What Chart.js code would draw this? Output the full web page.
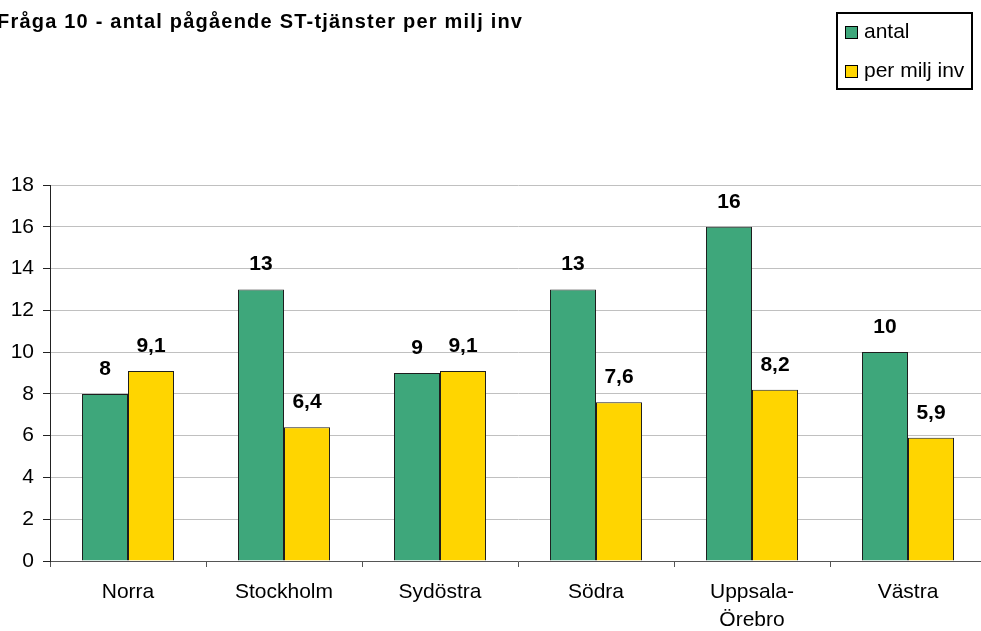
<!DOCTYPE html>
<html lang="sv">
<head>
<meta charset="UTF-8">
<title>Fråga 10 - antal pågående ST-tjänster per milj inv</title>
<script src="https://cdn.jsdelivr.net/npm/chart.js"></script>
<style>
    html, body {
        margin: 0;
        padding: 0;
        background: #ffffff;
        overflow: hidden;
    }
    #wrap {
        width: 990px;
        height: 631px;
    }
</style>
</head>
<body>

<div id="wrap"><canvas id="stChart" width="990" height="631"></canvas></div>

<script>
    const titel = 'Fråga 10 - antal pågående ST-tjänster per milj inv';
    const regioner = ['Norra', 'Stockholm', 'Sydöstra', 'Södra', ['Uppsala-', 'Örebro'], 'Västra'];
    const antal = [8, 13, 9, 13, 16, 10];
    const perMiljInv = [9.1, 6.4, 9.1, 7.6, 8.2, 5.9];
    const serieNamn = ['antal', 'per milj inv'];
    const serieFarg = ['#3ea77b', '#ffd500'];
    const yMin = 0, yMax = 18, ySteg = 2;

    const typsnitt = '"Liberation Sans", Arial, sans-serif';

    // värden, rubrik och förklaring ritas direkt på canvasen
    const ritaText = {
        id: 'ritaText',
        afterDatasetsDraw(chart) {
            const ctx = chart.ctx;
            ctx.save();

            ctx.font = 'bold 21px ' + typsnitt;
            ctx.fillStyle = '#000';
            ctx.textAlign = 'center';
            ctx.textBaseline = 'alphabetic';
            chart.data.datasets.forEach((ds, i) => {
                chart.getDatasetMeta(i).data.forEach((bar, j) => {
                    ctx.fillText(String(ds.data[j]).replace('.', ','), bar.x, bar.y - 19);
                });
            });

            // rubrik, lite utspärrad som i originalet
            ctx.textAlign = 'left';
            ctx.font = 'bold 20px ' + typsnitt;
            const bredd = ctx.measureText(titel).width;
            ctx.letterSpacing = ((525 - bredd) / (titel.length - 1)).toFixed(2) + 'px';
            ctx.fillText(titel, -3, 28);
            ctx.letterSpacing = '0px';

            // förklaring med ram
            ctx.lineWidth = 2;
            ctx.strokeStyle = '#000';
            ctx.strokeRect(837, 13, 135, 76);
            ctx.font = '21px ' + typsnitt;
            ctx.lineWidth = 1;
            serieNamn.forEach((namn, i) => {
                const y = 26 + i * 39;
                ctx.fillStyle = serieFarg[i];
                ctx.fillRect(845.5, y + 0.5, 12, 12);
                ctx.strokeRect(845.5, y + 0.5, 12, 12);
                ctx.fillStyle = '#000';
                ctx.fillText(namn, 864, 38 + i * 39);
            });

            ctx.restore();
        }
    };

    new Chart(document.getElementById('stChart'), {
        type: 'bar',
        data: {
            labels: regioner,
            datasets: [
                {
                    label: serieNamn[0],
                    data: antal,
                    backgroundColor: serieFarg[0],
                    borderColor: '#1e1e1e',
                    borderWidth: 1
                },
                {
                    label: serieNamn[1],
                    data: perMiljInv,
                    backgroundColor: serieFarg[1],
                    borderColor: '#1e1e1e',
                    borderWidth: 1
                }
            ]
        },
        options: {
            responsive: false,
            animation: false,
            categoryPercentage: 0.59,
            barPercentage: 1,
            layout: {
                padding: { top: 185, right: 4, left: 0, bottom: 0 }
            },
            scales: {
                x: {
                    afterFit: (s) => { s.height = 70; },
                    grid: {
                        drawOnChartArea: false,
                        tickLength: 6,
                        color: '#555'
                    },
                    border: { color: '#555' },
                    ticks: {
                        color: '#000',
                        padding: 11,
                        font: { family: typsnitt, size: 21, lineHeight: 1.35 }
                    }
                },
                y: {
                    min: yMin,
                    max: yMax,
                    afterFit: (s) => { s.width = 50; },
                    grid: {
                        color: '#c0c0c0',
                        tickColor: '#222',
                        tickLength: 7
                    },
                    border: { color: '#222' },
                    ticks: {
                        stepSize: ySteg,
                        color: '#000',
                        padding: 9,
                        font: { family: typsnitt, size: 21 }
                    }
                }
            },
            plugins: {
                legend: { display: false },
                title: { display: false },
                tooltip: { enabled: false }
            }
        },
        plugins: [ritaText]
    });
</script>

</body>
</html>
